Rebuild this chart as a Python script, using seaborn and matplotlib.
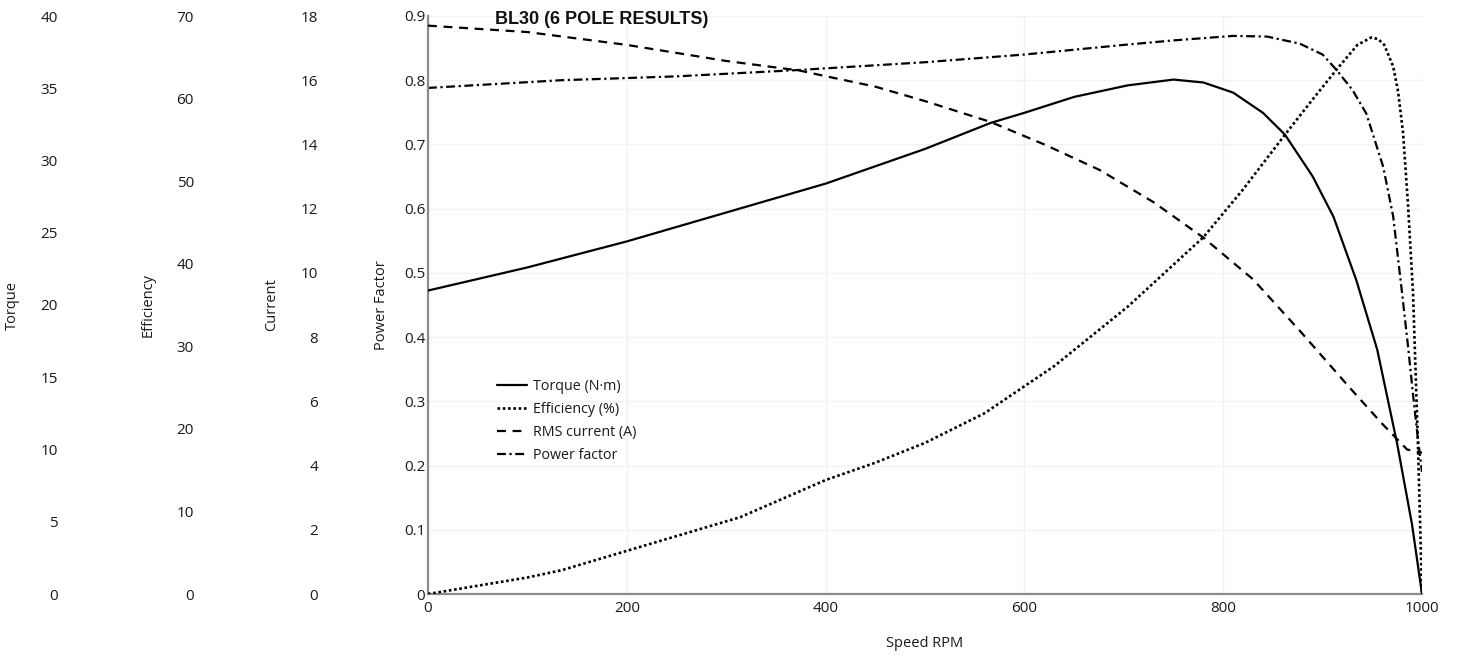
import matplotlib
matplotlib.use("Agg")
import matplotlib.pyplot as plt
import seaborn as sns
from matplotlib.lines import Line2D

# ---- data ----
torque_rpm = [0, 100, 200, 300, 400, 500, 566, 600, 650, 704, 750, 780, 810, 840, 862, 890, 911, 934, 955, 975, 990, 1000]
torque_nm = [21.0, 22.6, 24.4, 26.4, 28.4, 30.8, 32.6, 33.3, 34.4, 35.2, 35.6, 35.4, 34.7, 33.3, 31.8, 28.9,
             26.1, 21.7, 16.9, 10.4, 4.8, 0.0]

eff_rpm = [0, 100, 135, 202, 314, 400, 450, 500, 560, 630, 704, 780, 820, 862, 890, 914, 935, 949, 956, 962,
           971, 976, 981, 986, 991, 996, 1000]
eff_pct = [0.0, 2.0, 2.9, 5.3, 9.3, 13.8, 15.9, 18.3, 21.9, 27.6, 34.8, 43.2, 49.0, 55.6, 59.9, 63.5, 66.5,
           67.4, 67.2, 66.5, 63.9, 60.8, 55.8, 47.0, 36.4, 17.8, 0.0]

cur_rpm = [0, 100, 200, 300, 374, 404, 450, 500, 566, 620, 676, 730, 780, 830, 877, 928, 960, 985, 1000]
cur_a = [17.7, 17.5, 17.1, 16.6, 16.3, 16.1, 15.8, 15.35, 14.7, 14.0, 13.2, 12.2, 11.1, 9.8, 8.2, 6.4, 5.3, 4.5, 4.4]

pf_rpm = [0, 134, 250, 374, 500, 600, 700, 750, 810, 844, 877, 900, 914, 930, 944, 961, 971, 980, 986, 991,
          996, 1000]
pf_val = [0.788, 0.800, 0.806, 0.816, 0.828, 0.840, 0.855, 0.862, 0.869, 0.868, 0.857, 0.840, 0.816, 0.785,
          0.748, 0.665, 0.588, 0.468, 0.385, 0.31, 0.24, 0.19]

series_labels = ["Torque (N·m)", "Efficiency (%)", "RMS current (A)", "Power factor"]
x_ticks = [0, 200, 400, 600, 800, 1000]
pf_ticks = [0, 0.1, 0.2, 0.3, 0.4, 0.5, 0.6, 0.7, 0.8, 0.9]
pf_ticklabels = ["0", "0.1", "0.2", "0.3", "0.4", "0.5", "0.6", "0.7", "0.8", "0.9"]
torque_ticks = [0, 5, 10, 15, 20, 25, 30, 35, 40]
eff_ticks = [0, 10, 20, 30, 40, 50, 60, 70]
cur_ticks = [0, 2, 4, 6, 8, 10, 12, 14, 16, 18]

# ---- style ----
sns.set_theme(style="white")
plt.rcParams["font.family"] = ["Open Sans", "DejaVu Sans"]
TXT = "#1a1a1a"
TICK_FS = 11
LAB_FS = 10.5
LW = 1.6

W, H = 1458, 660
fig = plt.figure(figsize=(W / 100, H / 100), dpi=100)
L, R, T, B = 428, 1422, 16, 594
ax = fig.add_axes([L / W, (H - B) / H, (R - L) / W, (B - T) / H])
axw = R - L


def fx(px):
    return (px - L) / axw


# main axis: power factor
ax.set_xlim(0, 1000)
ax.set_ylim(0, 0.9)
ax.set_xticks(x_ticks)
ax.set_xticklabels([str(v) for v in x_ticks])
ax.set_yticks(pf_ticks)
ax.set_yticklabels(pf_ticklabels)
ax.tick_params(axis="both", length=0, labelsize=TICK_FS, colors=TXT)
ax.tick_params(axis="y", pad=2.0)
ax.tick_params(axis="x", pad=5.0)
ax.grid(True, color="#f2f2f2", lw=1.0)
for s in ["top", "right"]:
    ax.spines[s].set_visible(False)
for s in ["left", "bottom"]:
    ax.spines[s].set_color("#8c8c8c")
    ax.spines[s].set_linewidth(1.6)
ax.set_ylabel("Power Factor", fontsize=LAB_FS, color=TXT)
ax.yaxis.set_label_coords(fx(389), 0.5)


def make_twin(lim, ticks, label, tick_right_px, label_right_px):
    t = ax.twinx()
    t.set_ylim(*lim)
    t.set_yticks(ticks)
    t.set_yticklabels([str(v) for v in ticks])
    t.yaxis.set_ticks_position("left")
    t.yaxis.set_label_position("left")
    t.spines["left"].set_position(("axes", fx(tick_right_px)))
    for s in t.spines.values():
        s.set_visible(False)
    t.tick_params(axis="y", length=0, pad=0, labelsize=TICK_FS, colors=TXT)
    t.set_ylabel(label, fontsize=LAB_FS, color=TXT)
    t.yaxis.set_label_coords(fx(label_right_px), 0.5)
    t.grid(False)
    return t


ax_t = make_twin((0, 40), torque_ticks, "Torque", 58, 20)
ax_e = make_twin((0, 70), eff_ticks, "Efficiency", 194, 156)
ax_c = make_twin((0, 18), cur_ticks, "Current", 318, 279)

styles = {
    "torque": "-",
    "eff": (0, (1, 1)),
    "cur": (0, (4, 3)),
    "pf": (0, (4, 1.6, 1, 1.6)),
}

sns.lineplot(x=torque_rpm, y=torque_nm, ax=ax_t, color="black", lw=LW, linestyle=styles["torque"])
sns.lineplot(x=eff_rpm, y=eff_pct, ax=ax_e, color="black", lw=LW + 0.3, linestyle=styles["eff"])
sns.lineplot(x=cur_rpm, y=cur_a, ax=ax_c, color="black", lw=LW, linestyle=styles["cur"])
sns.lineplot(x=pf_rpm, y=pf_val, ax=ax, color="black", lw=LW, linestyle=styles["pf"])
for a in (ax_t, ax_e, ax_c):
    a.set_xlim(0, 1000)
    a.set_xlabel("")
ax.set_ylabel("Power Factor", fontsize=LAB_FS, color=TXT)
ax.yaxis.set_label_coords(fx(389), 0.5)
ax.set_xlabel("Speed RPM", fontsize=LAB_FS, color=TXT)
ax.xaxis.set_label_coords(0.5, (B - 636) / (B - T))
ax.xaxis.label.set_va("top")

handles = [
    Line2D([], [], color="black", lw=LW, linestyle=styles["torque"]),
    Line2D([], [], color="black", lw=LW + 0.3, linestyle=styles["eff"]),
    Line2D([], [], color="black", lw=LW, linestyle=styles["cur"]),
    Line2D([], [], color="black", lw=LW, linestyle=styles["pf"]),
]
leg = fig.legend(handles, series_labels, loc="upper left",
                 bbox_to_anchor=(497 / W, (H - 379) / H), bbox_transform=fig.transFigure,
                 frameon=False, fontsize=10.3, borderaxespad=0, borderpad=0,
                 handlelength=2.1, handletextpad=0.45, labelspacing=0.55)
for txt in leg.get_texts():
    txt.set_color(TXT)

fig.text(495 / W, (H - 19) / H, "BL30 (6 POLE RESULTS)", family=["Liberation Sans", "DejaVu Sans"],
         weight="bold", fontsize=13, color="#111111", va="center", ha="left")

fig.savefig("out.png", dpi=100, facecolor="white")
